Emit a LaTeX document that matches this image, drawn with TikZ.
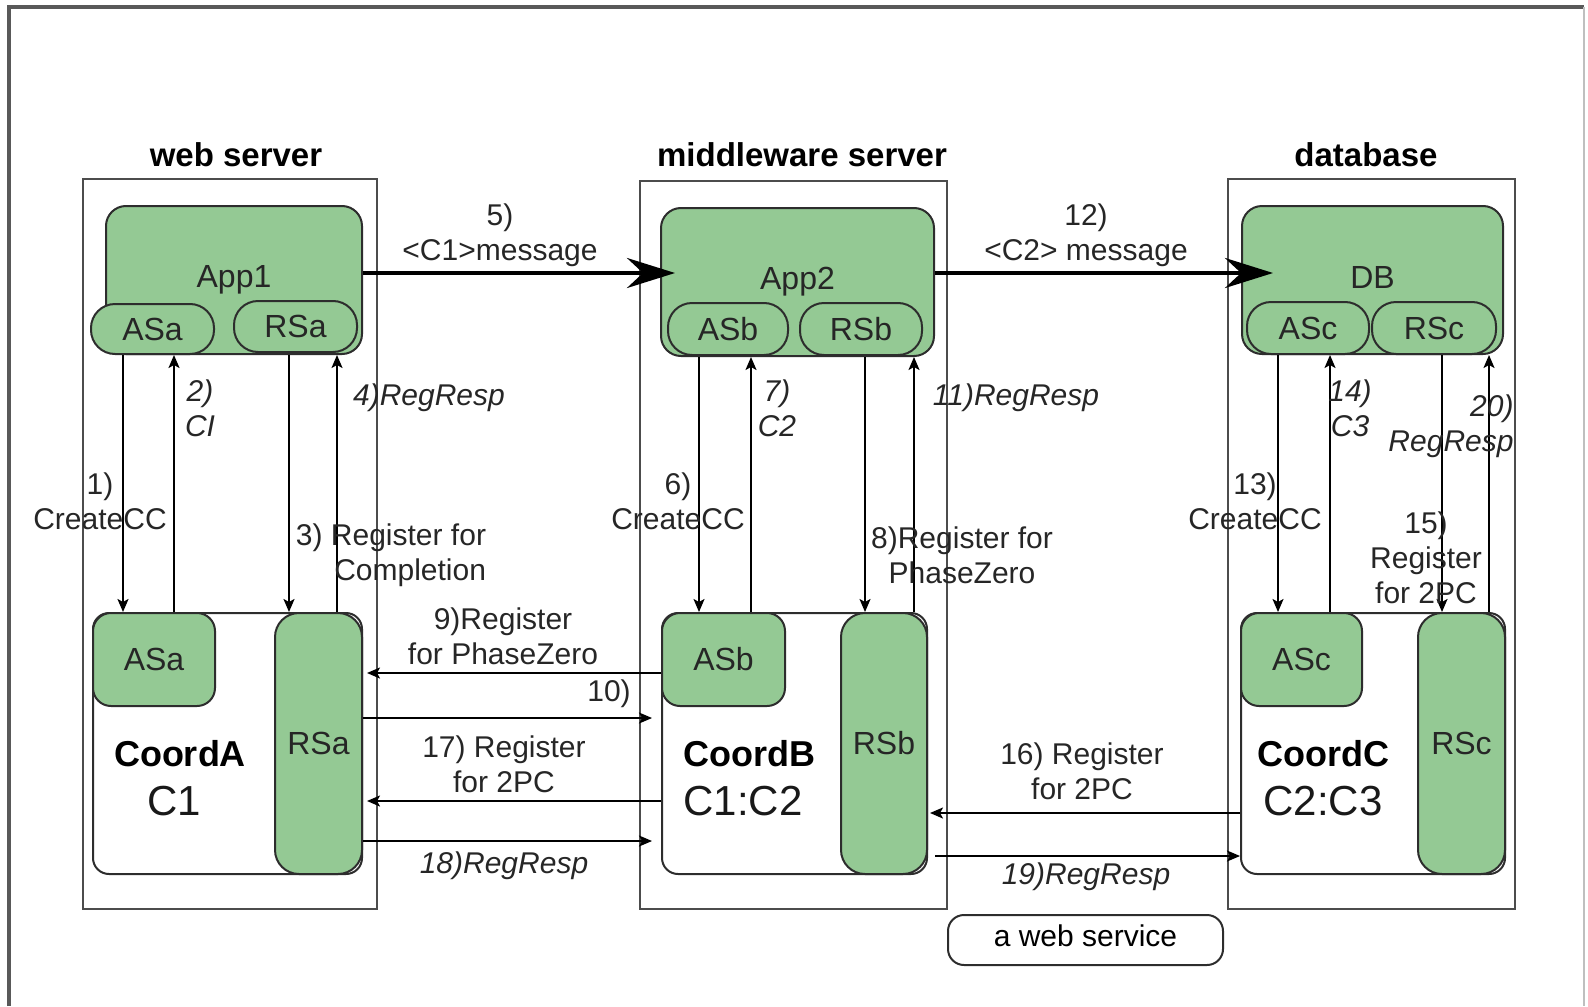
\documentclass[tikz,border=0pt]{standalone}
\usepackage{fontspec}
\setmainfont{Liberation Sans}
\usepackage{tikz}
\usetikzlibrary{positioning, arrows.meta}
\definecolor{appgreen}{RGB}{148,201,148}
\definecolor{edgegray}{RGB}{45,45,45}
\tikzstyle{server} = [rectangle, draw=black!70, line width=1.2pt, inner sep=0pt]
\tikzstyle{app} = [rectangle, draw=edgegray, fill=appgreen, rounded corners=10pt, line width=1pt, inner sep=0pt, text=black!85, font=\fontsize{16}{19}\selectfont]
\tikzstyle{pill} = [rectangle, draw=edgegray, fill=appgreen, rounded corners=12pt, line width=1pt, inner sep=0pt, text=black!85, font=\fontsize{16}{19}\selectfont]
\tikzstyle{coord} = [rectangle, draw=edgegray, fill=white, rounded corners=8pt, line width=1pt, inner sep=0pt]
\tikzstyle{line} = [draw, line width=1pt, -{Stealth[length=6.5pt, width=5.5pt, inset=1.5pt]}]
\tikzstyle{bigline} = [draw, line width=2pt, -{Stealth[length=24pt, width=15pt, inset=8pt]}]
\tikzstyle{lbl} = [align=center, inner sep=0pt, text=black!85, font=\fontsize{15}{17.5}\selectfont]
\tikzstyle{ilbl} = [lbl, font=\fontsize{15}{17.5}\selectfont\itshape]
\tikzstyle{title} = [inner sep=0pt, font=\fontsize{16.5}{20}\selectfont\bfseries]
\tikzstyle{coordname} = [inner sep=0pt, font=\fontsize{18}{22}\selectfont\bfseries]
\tikzstyle{coordid} = [inner sep=0pt, text=black!90, font=\fontsize{21}{25}\selectfont]

\begin{document}
\begin{tikzpicture}[x=0.5pt, y=-0.5pt]
    \useasboundingbox (0,0) rectangle (1588,1006);
    \draw [black!65, line width=2pt] (9,1006) -- (9,7) -- (1584,7);
    \draw [black!25, line width=1pt] (1584,7) -- (1584,1006);

    % servers
    \node (webbox) [server, minimum width=147pt, minimum height=365pt] at (230,544) {};
    \node (mwbox) [server, minimum width=153.5pt, minimum height=364pt] at (793.5,545) {};
    \node (dbbox) [server, minimum width=143.5pt, minimum height=365pt] at (1371.5,544) {};
    \node (webtitle) [title] at (236,155) {web server};
    \node (mwtitle) [title] at (802,155) {middleware server};
    \node (dbtitle) [title] at (1366,155) {database};

    % applications
    \node (App1) [app, minimum width=128pt, minimum height=74pt] at (234,280) {App1};
    \node (App2) [app, minimum width=136.5pt, minimum height=74pt] at (797.5,282) {App2};
    \node (DB) [app, minimum width=130.5pt, minimum height=74pt, text depth=3pt] at (1372.5,280) {DB};
    \node (ASa1) [pill, minimum width=61.5pt, minimum height=25pt] at (152.5,329) {ASa};
    \node (RSa1) [pill, minimum width=61.5pt, minimum height=25.5pt] at (295.5,326.5) {RSa};
    \node (ASb1) [pill, minimum width=60pt, minimum height=26pt] at (728,329) {ASb};
    \node (RSb1) [pill, minimum width=61pt, minimum height=26pt] at (861,329) {RSb};
    \node (ASc1) [pill, minimum width=61pt, minimum height=26pt] at (1308,328) {ASc};
    \node (RSc1) [pill, minimum width=62pt, minimum height=26pt] at (1434,328) {RSc};

    % coordinators
    \node (CoordA) [coord, minimum width=134.5pt, minimum height=130.5pt] at (227.5,743.5) {};
    \node (CoordB) [coord, minimum width=132.5pt, minimum height=130.5pt] at (794.5,743.5) {};
    \node (CoordC) [coord, minimum width=132pt, minimum height=130.5pt] at (1373,743.5) {};
    \node (ASa2) [pill, rounded corners=9pt, minimum width=61pt, minimum height=46.5pt] at (154,659.5) {ASa};
    \node (ASb2) [pill, rounded corners=9pt, minimum width=61.5pt, minimum height=46.5pt] at (723.5,659.5) {ASb};
    \node (ASc2) [pill, rounded corners=9pt, minimum width=60.5pt, minimum height=46.5pt] at (1301.5,659.5) {ASc};
    \node (RSa2) [pill, minimum width=43.5pt, minimum height=130.5pt] at (318.5,743.5) {RSa};
    \node (RSb2) [pill, minimum width=43pt, minimum height=130.5pt] at (884,743.5) {RSb};
    \node (RSc2) [pill, minimum width=43.5pt, minimum height=130.5pt] at (1461.5,743.5) {RSc};
    \node (CoordAname) [coordname] at (180,754) {CoordA};
    \node (CoordAid) [coordid] at (174,801) {C1};
    \node (CoordBname) [coordname] at (749,754) {CoordB};
    \node (CoordBid) [coordid] at (743,801) {C1:C2};
    \node (CoordCname) [coordname] at (1323,754) {CoordC};
    \node (CoordCid) [coordid] at (1323,801) {C2:C3};

    \node (websvc) [rectangle, draw=edgegray, line width=1pt, rounded corners=8pt, minimum width=137.5pt, minimum height=25pt, inner sep=0pt, text depth=4pt, font=\fontsize{15}{18}\selectfont] at (1085.5,940) {a web service};

    % where the connectors run
    \coordinate (v1) at (123,0);
    \coordinate (v2) at (174,0);
    \coordinate (v3) at (289,0);
    \coordinate (v4) at (337,0);
    \coordinate (v6) at (699,0);
    \coordinate (v7) at (751,0);
    \coordinate (v8) at (865,0);
    \coordinate (v11) at (914,0);
    \coordinate (v13) at (1278,0);
    \coordinate (v14) at (1330,0);
    \coordinate (v15) at (1442,0);
    \coordinate (v20) at (1489,0);
    \coordinate (h5) at (0,273);
    \coordinate (h12) at (0,273);
    \coordinate (h9) at (0,673);
    \coordinate (h10) at (0,718);
    \coordinate (h17) at (0,801);
    \coordinate (h18) at (0,841);
    \coordinate (h16) at (0,813);
    \coordinate (h19) at (0,856);

    \path [bigline, shorten >=-7.5pt] (App1.east |- h5) -- (App2.west |- h5);
    \path [bigline, shorten >=-16pt] (App2.east |- h12) -- (DB.west |- h12);

    \path [line] (App1.south -| v1) -- (CoordA.north -| v1);
    \path [line] (CoordA.north -| v2) -- (App1.south -| v2);
    \path [line] (App1.south -| v3) -- (CoordA.north -| v3);
    \path [line] (CoordA.north -| v4) -- (App1.south -| v4);
    \path [line] (App2.south -| v6) -- (CoordB.north -| v6);
    \path [line] (CoordB.north -| v7) -- (App2.south -| v7);
    \path [line] (App2.south -| v8) -- (CoordB.north -| v8);
    \path [line] (CoordB.north -| v11) -- (App2.south -| v11);
    \path [line] (DB.south -| v13) -- (CoordC.north -| v13);
    \path [line] (CoordC.north -| v14) -- (DB.south -| v14);
    \path [line] (DB.south -| v15) -- (CoordC.north -| v15);
    \path [line] (CoordC.north -| v20) -- (DB.south -| v20);

    \path [line, shorten >=2pt] (ASb2.west |- h9) -- (RSa2.east |- h9);
    \path [line, shorten >=4.5pt] (RSa2.east |- h10) -- (CoordB.west |- h10);
    \path [line, shorten >=2pt] (CoordB.west |- h17) -- (RSa2.east |- h17);
    \path [line, shorten >=4.5pt] (RSa2.east |- h18) -- (CoordB.west |- h18);
    \path [line, shorten >=1pt] (CoordC.west |- h16) -- (RSb2.east |- h16);
    \path [line, shorten <=3.5pt] (RSb2.east |- h19) -- (CoordC.west |- h19);

    % labels
    \node (lbl5) [lbl] at (500,235) {5)\\<C1>message};
    \node (lbl12) [lbl] at (1086,235) {12)\\<C2> message};
    \node (lbl1) [lbl] at (100,501) {1)\\CreateCC};
    \node (lbl2) [ilbl] at (200,408) {2)\\CI};
    \node (lbl3) [lbl, align=right] at (391,555) {3) Register for\\Completion};
    \node (lbl4) [ilbl] at (429,398) {4)RegResp};
    \node (lbl6) [lbl] at (678,501) {6)\\CreateCC};
    \node (lbl7) [ilbl] at (777,408) {7)\\C2};
    \node (lbl8) [lbl] at (962,555) {8)Register for\\PhaseZero};
    \node (lbl11) [ilbl] at (1016,398) {11)RegResp};
    \node (lbl13) [lbl] at (1255,501) {13)\\CreateCC};
    \node (lbl14) [ilbl] at (1350,408) {14)\\C3};
    \node (lbl15) [lbl] at (1426,558) {15)\\Register\\for 2PC};
    \node (lbl20) [ilbl, align=right] at (1451,426) {20)\\RegResp};
    \node (lbl9) [lbl] at (503,636) {9)Register\\for PhaseZero};
    \node (lbl10) [lbl] at (609,694) {10)};
    \node (lbl17) [lbl] at (504,764) {17) Register\\for 2PC};
    \node (lbl18) [ilbl] at (504,866) {18)RegResp};
    \node (lbl16) [lbl] at (1082,771) {16) Register\\for 2PC};
    \node (lbl19) [ilbl] at (1086,877) {19)RegResp};
\end{tikzpicture}
\end{document}
